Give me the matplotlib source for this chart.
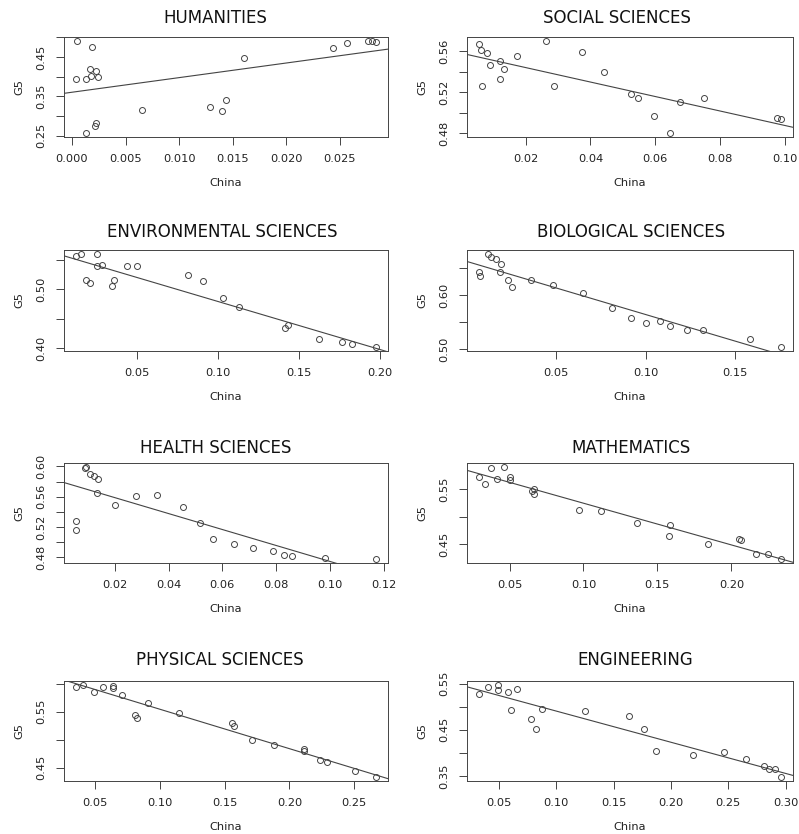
import matplotlib
matplotlib.use("Agg")
import matplotlib.pyplot as plt
import numpy as np

# subject panels
titles = ["HUMANITIES", "SOCIAL SCIENCES", "ENVIRONMENTAL SCIENCES", "BIOLOGICAL SCIENCES",
          "HEALTH SCIENCES", "MATHEMATICS", "PHYSICAL SCIENCES", "ENGINEERING"]

hum_china = [0.00046, 0.00185, 0.00037, 0.0013, 0.0017, 0.00176, 0.00226, 0.00238, 0.00127, 0.0021,
             0.00226, 0.00652, 0.01292, 0.0140, 0.0144, 0.01607, 0.02438, 0.02562, 0.02766, 0.0280, 0.02837]
hum_g5 = [0.491, 0.4755, 0.393, 0.393, 0.4185, 0.403, 0.4143, 0.3998, 0.256, 0.2755,
          0.283, 0.3155, 0.324, 0.3138, 0.340, 0.4474, 0.4738, 0.485, 0.4917, 0.4917, 0.488]

soc_china = [0.00557, 0.00608, 0.00794, 0.0064, 0.00897, 0.01196, 0.0132, 0.01196, 0.01732, 0.02639,
             0.02887, 0.03753, 0.04423, 0.05247, 0.05464, 0.05959, 0.06454, 0.06773, 0.07505, 0.09763, 0.09887]
soc_g5 = [0.5675, 0.5616, 0.558, 0.5257, 0.5463, 0.5505, 0.543, 0.5335, 0.5557, 0.5705,
          0.5266, 0.559, 0.540, 0.5188, 0.5142, 0.4969, 0.4799, 0.5106, 0.5142, 0.4953, 0.4936]

env_china = [0.01255, 0.01561, 0.02523, 0.01848, 0.02135, 0.02544, 0.02851, 0.03465, 0.03588, 0.04406,
             0.0500, 0.08193, 0.09094, 0.10327, 0.1130, 0.1415, 0.1436, 0.1624, 0.1765, 0.1831, 0.1976]
env_g5 = [0.556, 0.560, 0.560, 0.516, 0.5097, 0.5388, 0.5411, 0.5051, 0.5154, 0.540,
          0.540, 0.5246, 0.5143, 0.4852, 0.4703, 0.4349, 0.4389, 0.4155, 0.4109, 0.408, 0.4018]

bio_china = [0.01168, 0.01355, 0.01617, 0.01916, 0.00664, 0.0072, 0.01841, 0.0229, 0.02495, 0.0356,
             0.04832, 0.06514, 0.08103, 0.09206, 0.1000, 0.1082, 0.1138, 0.1234, 0.1322, 0.1583, 0.1759]
bio_g5 = [0.6758, 0.669, 0.6658, 0.6578, 0.6422, 0.6354, 0.6428, 0.6267, 0.6143, 0.628,
          0.618, 0.6037, 0.5758, 0.5572, 0.5491, 0.5522, 0.5429, 0.536, 0.536, 0.518, 0.5037]

hea_china = [0.00877, 0.00914, 0.01074, 0.0121, 0.01358, 0.01333, 0.00556, 0.00556, 0.02025, 0.0279,
             0.0358, 0.04543, 0.05173, 0.05642, 0.0642, 0.07136, 0.07877, 0.08309, 0.0858, 0.09827, 0.11716]
hea_g5 = [0.5974, 0.5996, 0.5894, 0.5877, 0.5828, 0.5647, 0.5277, 0.5162, 0.5488, 0.5607,
          0.5616, 0.5462, 0.5259, 0.5047, 0.4972, 0.4928, 0.4884, 0.4836, 0.4823, 0.4787, 0.4774]

mat_china = [0.02941, 0.0335, 0.03756, 0.04163, 0.04615, 0.0500, 0.05023, 0.06516, 0.06652, 0.06629,
             0.09683, 0.11176, 0.13597, 0.1586, 0.1581, 0.1842, 0.2054, 0.2066, 0.2165, 0.2247, 0.2335]
mat_g5 = [0.5721, 0.5598, 0.5892, 0.569, 0.5917, 0.5733, 0.5666, 0.5475, 0.5512, 0.5408,
          0.5132, 0.5102, 0.4881, 0.4856, 0.4654, 0.4507, 0.4593, 0.4574, 0.4323, 0.4311, 0.4219]

phy_china = [0.03513, 0.04026, 0.04897, 0.05564, 0.06359, 0.06333, 0.07077, 0.09077, 0.08077, 0.08205,
             0.11462, 0.15538, 0.15718, 0.17128, 0.18795, 0.2113, 0.2110, 0.2233, 0.2294, 0.2508, 0.2669]
phy_g5 = [0.5937, 0.5985, 0.5853, 0.5949, 0.5961, 0.5919, 0.580, 0.565, 0.5446, 0.5386,
          0.547, 0.529, 0.5242, 0.4997, 0.4907, 0.4835, 0.4793, 0.4637, 0.4601, 0.4446, 0.4326]

eng_china = [0.03285, 0.0407, 0.0497, 0.0497, 0.05814, 0.0657, 0.06105, 0.07849, 0.08285, 0.08808,
             0.12558, 0.16366, 0.17645, 0.1872, 0.2192, 0.2459, 0.2657, 0.2814, 0.2858, 0.2907, 0.2959]
eng_g5 = [0.5282, 0.5427, 0.5478, 0.5355, 0.5318, 0.5391, 0.4933, 0.4737, 0.4526, 0.4962,
          0.4918, 0.4802, 0.4511, 0.4039, 0.3951, 0.4017, 0.3871, 0.3712, 0.3646, 0.3646, 0.3472]

xs = [hum_china, soc_china, env_china, bio_china, hea_china, mat_china, phy_china, eng_china]
ys = [hum_g5, soc_g5, env_g5, bio_g5, hea_g5, mat_g5, phy_g5, eng_g5]

# axis ticks (R style: every tick drawn, overlapping labels dropped)
xticks = [[0.0, 0.005, 0.01, 0.015, 0.02, 0.025],
          [0.02, 0.04, 0.06, 0.08, 0.10],
          [0.05, 0.10, 0.15, 0.20],
          [0.05, 0.10, 0.15],
          [0.02, 0.04, 0.06, 0.08, 0.10, 0.12],
          [0.05, 0.10, 0.15, 0.20],
          [0.05, 0.10, 0.15, 0.20, 0.25],
          [0.05, 0.10, 0.15, 0.20, 0.25, 0.30]]
xfmt = ["%.3f", "%.2f", "%.2f", "%.2f", "%.2f", "%.2f", "%.2f", "%.2f"]
yticks = [[0.25, 0.30, 0.35, 0.40, 0.45, 0.50],
          [0.48, 0.50, 0.52, 0.54, 0.56],
          [0.40, 0.45, 0.50, 0.55],
          [0.50, 0.55, 0.60, 0.65],
          [0.48, 0.50, 0.52, 0.54, 0.56, 0.58, 0.60],
          [0.45, 0.50, 0.55],
          [0.45, 0.50, 0.55, 0.60],
          [0.35, 0.40, 0.45, 0.50, 0.55]]
ylabeled = [[0.25, 0.35, 0.45],
            [0.48, 0.52, 0.56],
            [0.40, 0.50],
            [0.50, 0.60],
            [0.48, 0.52, 0.56, 0.60],
            [0.45, 0.55],
            [0.45, 0.55],
            [0.35, 0.45, 0.55]]

W, H = 799, 834
fig = plt.figure(figsize=(W / 100, H / 100), dpi=100)

cols = [(64, 388), (467, 793)]
rows = [(37, 137), (250, 351), (463, 563), (681, 781)]
title_pos = [(215, 18), (617, 18), (222, 232), (631, 232),
             (216, 448), (631, 448), (220, 660), (635, 660)]

gray = "#444444"

for i in range(8):
    x0, x1 = cols[i % 2]
    y0, y1 = rows[i // 2]
    ax = fig.add_axes([x0 / W, 1 - y1 / H, (x1 - x0) / W, (y1 - y0) / H])
    x = np.array(xs[i])
    y = np.array(ys[i])
    ax.plot(x, y, "o", ms=4.3, mfc="none", mec=gray, mew=0.7)

    # R-like 4% padding
    xr = x.max() - x.min()
    yr = y.max() - y.min()
    xlim = (x.min() - 0.04 * xr, x.max() + 0.04 * xr)
    ax.set_xlim(xlim)
    ax.set_ylim(y.min() - 0.04 * yr, y.max() + 0.04 * yr)

    b, a = np.polyfit(x, y, 1)
    lx = np.array(xlim)
    ax.plot(lx, a + b * lx, color=gray, lw=0.8)

    ax.set_xticks(xticks[i])
    ax.set_xticklabels([xfmt[i] % t for t in xticks[i]])
    ax.set_yticks(yticks[i])
    ax.set_yticklabels(["%.2f" % t if t in ylabeled[i] else "" for t in yticks[i]])
    ax.tick_params(axis="both", length=6, width=0.7, color=gray, labelsize=8.2,
                   labelcolor="#222222", pad=6.5)
    ax.tick_params(axis="y", labelrotation=90)
    for lab in ax.get_yticklabels():
        lab.set_va("center")
    for s in ax.spines.values():
        s.set_color(gray)
        s.set_linewidth(0.7)

    ax.set_xlabel("China", fontsize=8.2, color="#222222")
    ax.xaxis.set_label_coords(0.5, -46 / (y1 - y0))
    ax.xaxis.label.set_va("center")
    ax.set_ylabel("G5", fontsize=8.2, color="#222222")
    ax.yaxis.set_label_coords(-45 / (x1 - x0), 0.5)
    ax.yaxis.label.set_va("center")

    tx, ty = title_pos[i]
    fig.text(tx / W, 1 - ty / H, titles[i], fontsize=12, ha="center", va="center", color="#111111")

fig.savefig("out.png", dpi=100)
